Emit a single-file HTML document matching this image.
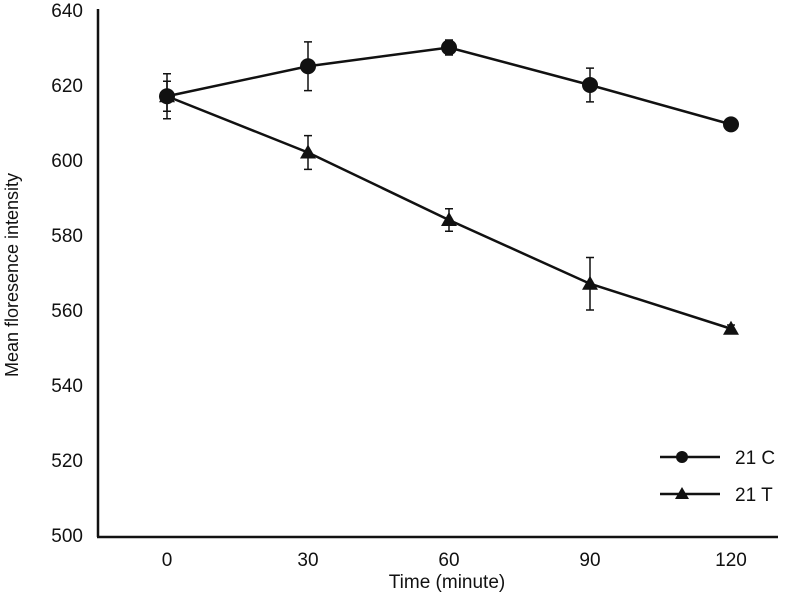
<!DOCTYPE html>
<html><head><meta charset="utf-8"><style>
body{margin:0;background:#fff}
svg text{font-family:"Liberation Sans",Arial,sans-serif;fill:#111}
</style></head><body>
<svg id="chart" width="800" height="600">
<g id="axes"></g><g id="series"></g>
<text x="0" y="0" transform="translate(18,275) rotate(-90)" text-anchor="middle" font-size="18">Mean floresence intensity</text>
<text x="447" y="588" text-anchor="middle" font-size="19">Time (minute)</text>
<g>
<g>
<line x1="660" y1="457" x2="720" y2="457" stroke="#111" stroke-width="2.5"/>
<circle cx="682" cy="457" r="6" fill="#111"/>
<text x="735" y="464" font-size="19">21 C</text></g>
<g>
<line x1="660" y1="494" x2="720" y2="494" stroke="#111" stroke-width="2.5"/>
<polygon points="682,487 689,499 675,499" fill="#111"/>
<text x="735" y="501" font-size="19">21 T</text></g>
</g>
</svg>
<script>
const categories=["0","30","60","90","120"];
const seriesC=[617,625,630,620,609.5];
const errC=[6,6.5,2,4.5,1];
const seriesT=[617,602,584,567,555];
const errT=[4,4.5,3,7,1];
const yTicks=[500,520,540,560,580,600,620,640];
const NS="http://www.w3.org/2000/svg";
const x0=167,dx=141,yBase=535,yTop=10;
function xs(i){return x0+i*dx;}
function ys(v){return yBase-(v-500)/140*(yBase-yTop);}
function mk(t,a,p){const e=document.createElementNS(NS,t);for(const k in a)e.setAttribute(k,a[k]);p.appendChild(e);return e;}
const ax=document.getElementById('axes'),sr=document.getElementById('series');
let l=mk('line',{x1:98,y1:9,x2:98,y2:537,stroke:'#111','stroke-width':2.5},ax);


l=mk('line',{x1:97,y1:537,x2:778,y2:537,stroke:'#111','stroke-width':2.5},ax);


yTicks.forEach(v=>{const t=mk('text',{x:83,y:ys(v)+7,'text-anchor':'end','font-size':19},ax);t.textContent=v;

});
categories.forEach((c,i)=>{const t=mk('text',{x:xs(i),y:566,'text-anchor':'middle','font-size':19},ax);t.textContent=c;

});
function draw(vals,errs,shape,name){
const g=mk('g',{},sr);


mk('polyline',{points:vals.map((v,i)=>xs(i)+','+ys(v)).join(' '),fill:'none',stroke:'#111','stroke-width':2.5},g);
vals.forEach((v,i)=>{const x=xs(i),y=ys(v),e=errs[i];
const eb=mk('path',{d:`M${x},${ys(v+e)}V${ys(v-e)}M${x-4},${ys(v+e)}H${x+4}M${x-4},${ys(v-e)}H${x+4}`,stroke:'#111','stroke-width':1.5,fill:'none'},g);


let m;
if(shape==='c')m=mk('circle',{cx:x,cy:y,r:8,fill:'#111'},g);
else m=mk('polygon',{points:`${x},${y-8} ${x+8},${y+6} ${x-8},${y+6}`,fill:'#111'},g);

});
}
draw(seriesT,errT,'t','series-21t');
draw(seriesC,errC,'c','series-21c');
</script>
</body></html>
